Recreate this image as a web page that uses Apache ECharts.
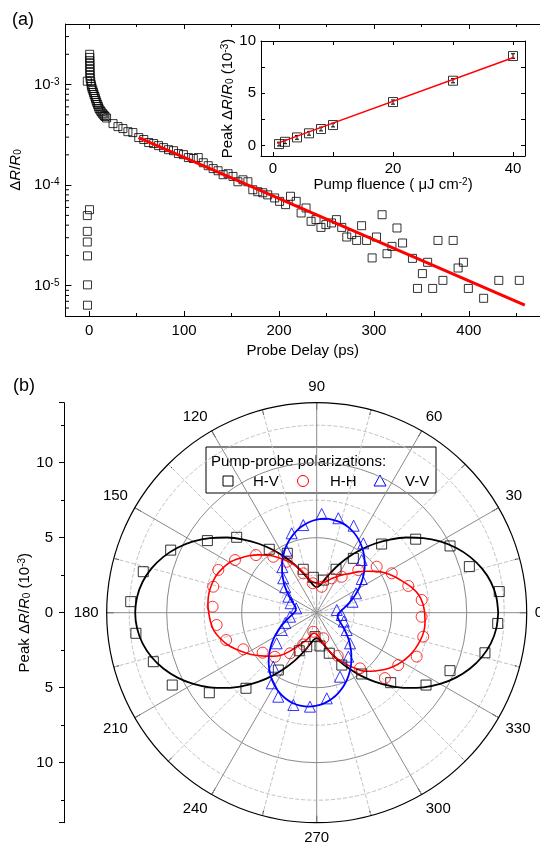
<!DOCTYPE html>
<html>
<head>
<meta charset="utf-8">
<script src="https://cdn.jsdelivr.net/npm/echarts@6/dist/echarts.min.js"></script>
<style>
  html, body { margin: 0; padding: 0; background: #fff; }
  #chart { width: 540px; height: 847px; }
</style>
</head>
<body>
<div id="chart"></div>
<script>
const FONT = '"Liberation Sans", Arial, Helvetica, sans-serif';

// ---- (a) transient reflectivity vs probe delay ----
const delayPs = [
  -2, 0.3, -2, -2, -2, -1.8, -1.8, -1.8,
  0.5, 0.6, 0.6, 0.7, 0.7, 0.8, 0.8, 0.9, 1.0,
  1.6, 2.1, 2.6, 3.1, 3.9, 4.5, 5.2, 6.0, 6.6, 7.3, 8.0, 8.9, 9.7, 10.4, 11.5, 12.5, 13.6, 14.6, 15.7, 16.7, 18.3,
  25.1, 30.3, 35.5, 40.8, 46.0, 52.2, 57.5, 62.7, 67.9, 73.1, 78.4, 83.6, 88.8, 94.0, 99.3, 104.5, 109.7, 114.9,
  120.2, 125.4, 130.6, 135.8, 141.1, 146.3, 151.5, 156.7, 162.0, 167.2, 172.4, 177.6, 182.9, 188.1,
  195.4, 200.6, 206.9, 212.1, 218.1, 223.3, 228.5, 233.8, 239.0, 244.2, 249.4, 255.3, 260.5, 266.1, 271.4,
  276.6, 281.8, 287.0, 292.3, 298.1, 302.7, 308.6, 313.8, 319.0, 324.3, 330.2, 340.6, 345.9, 351.1, 356.6,
  361.9, 367.5, 372.7, 383.5, 388.7, 394.3, 399.5, 415.6, 431.6, 453.2
];
const deltaR = [
  1.08e-3, 5.7e-5, 4.98e-5, 3.47e-5, 2.72e-5, 1.98e-5, 1.02e-5, 6.4e-6,
  2.0e-3, 1.86e-3, 1.73e-3, 1.62e-3, 1.51e-3, 1.41e-3, 1.32e-3, 1.23e-3, 1.15e-3,
  1.07e-3, 1.0e-3, 9.55e-4, 9.12e-4, 8.71e-4, 8.32e-4, 7.95e-4, 7.6e-4, 7.26e-4, 6.93e-4, 6.62e-4, 6.33e-4, 6.04e-4, 5.77e-4, 5.57e-4, 5.38e-4, 5.2e-4, 5.08e-4, 4.92e-4, 4.81e-4, 4.65e-4,
  4.09e-4, 3.82e-4, 3.65e-4, 3.4e-4, 3.33e-4, 2.97e-4, 2.84e-4, 2.65e-4, 2.59e-4, 2.47e-4, 2.36e-4, 2.25e-4, 2.2e-4, 2.06e-4, 2.01e-4, 1.88e-4, 1.84e-4, 1.88e-4,
  1.67e-4, 1.56e-4, 1.46e-4, 1.39e-4, 1.27e-4, 1.3e-4, 1.22e-4, 1.08e-4, 1.13e-4, 1.08e-4, 9.0e-5, 8.6e-5, 8.4e-5, 8.0e-5,
  7.46e-5, 6.9e-5, 6.4e-5, 7.75e-5, 6.9e-5, 5.29e-5, 5.93e-5, 4.37e-5, 4.54e-5, 3.8e-5, 4.05e-5, 4.21e-5, 4.54e-5, 3.8e-5, 3.05e-5,
  3.22e-5, 2.82e-5, 3.95e-5, 2.82e-5, 1.89e-5, 3.05e-5, 5.08e-5, 2.08e-5, 2.46e-5, 3.75e-5, 2.66e-5, 1.87e-5, 9.4e-6, 1.32e-5, 1.71e-5,
  9.4e-6, 2.82e-5, 1.13e-5, 2.82e-5, 1.5e-5, 1.71e-5, 9.4e-6, 7.5e-6, 1.13e-5, 1.13e-5
];
// single-exponential fit, end points
const fitDelay = [52, 459];
const fitDeltaR = [2.97e-4, 6.4e-6];
// minor ticks of the log axis
const logMinorTicks = [6e-6, 7e-6, 8e-6, 9e-6,
  2e-5, 3e-5, 4e-5, 5e-5, 6e-5, 7e-5, 8e-5, 9e-5,
  2e-4, 3e-4, 4e-4, 5e-4, 6e-4, 7e-4, 8e-4, 9e-4,
  2e-3, 3e-3];

// ---- inset: peak signal vs pump fluence ----
const fluence = [1, 2, 4, 6, 8, 10, 20, 30, 40];
const peakSignal = [0.14, 0.36, 0.78, 1.17, 1.58, 1.96, 4.16, 6.2, 8.56];
const peakError = [0.18, 0.18, 0.18, 0.18, 0.18, 0.18, 0.2, 0.2, 0.22];
const fitFluence = [0.7, 40.2];
const fitPeak = [0.21, 8.44];

// ---- (b) polarization dependence (angle in degrees, peak in 1e-3) ----
const hvAngle = [6.6, 16.8, 26.6, 36.6, 46.6, 56, 66, 78.6, 95.5, 107.2, 116.3, 126.8, 136.7, 146.6, 156.8, 166.7, 176.6,
  186.5, 196.7, 206.6, 216.7, 226.9, 236.2, 245.4, 253.6, 266, 275.7, 287.2, 295.6, 306.3, 316.6, 326.5, 336.5, 346.6, 356.6];
const hvPeak = [12.25, 10.63, 9.94, 8.22, 6.3, 4.37, 3.17, 2.22, 2.37, 3.03, 4.42, 5.28, 7.33, 8.73, 10.59, 11.88, 12.42,
  12.13, 11.37, 10.77, 8.93, 6.9, 4.6, 2.79, 2.36, 1.6, 2.23, 2.83, 3.87, 5.07, 6.79, 8.74, 9.69, 11.53, 12.09];

const hhAngle = [6.9, 16.3, 27.7, 37.5, 45.7, 55.2, 66.4, 79.1, 97.7, 108.8, 120.5, 127.8, 136.5, 147.2, 156.5, 165.9, 176.7,
  187, 196.8, 206.5, 216.5, 226.5, 236.7, 247, 259.9, 284.5, 296, 307.9, 316.2, 327.3, 336.3, 347.3, 357.8];
const hhPeak = [7.05, 6.36, 5.65, 5.04, 3.97, 2.92, 2.5, 1.76, 1.98, 2.77, 3.94, 4.72, 5.58, 6.48, 7.15, 7.11, 6.95,
  6.72, 6.31, 5.47, 4.48, 4.05, 3.24, 2.3, 1.29, 1.76, 3.2, 4.7, 6.3, 6.46, 7.28, 7.28, 7.0];

const vvAngle = [7.7, 17, 26.3, 36.8, 49.5, 56.1, 67, 77.1, 87.1, 98.7, 107.5, 116, 127, 134.2, 141, 150.6, 160, 168,
  188.5, 198, 206.3, 217.4, 231.2, 237.5, 245.4, 255.8, 265.9, 276.7, 290, 305.7, 317.4, 330, 342, 354.7];
const vvPeak = [1.35, 2.5, 2.92, 3.75, 4.62, 5.57, 6.3, 6.46, 6.59, 5.91, 5.55, 4.6, 3.8, 3.2, 2.7, 2.17, 1.85, 1.4,
  1.8, 2.2, 2.6, 3.36, 4.62, 5.58, 6.16, 6.35, 6.28, 5.75, 4.54, 3.61, 3.02, 2.31, 1.9, 1.67];

// fitted curves sampled every 5 degrees, 0..360
const curveAngle = Array.from({ length: 73 }, (_, i) => i * 5);
const hvCurve = [
  12.1, 12.02, 11.79, 11.4, 10.88, 10.24, 9.5, 8.68, 7.8, 6.9, 6.0, 5.12, 4.3, 3.56, 2.92, 2.4, 2.01, 1.78,
  1.7, 1.78, 2.01, 2.4, 2.92, 3.56, 4.3, 5.12, 6.0, 6.9, 7.8, 8.68, 9.5, 10.24, 10.88, 11.4, 11.79, 12.02,
  12.1, 12.02, 11.79, 11.4, 10.88, 10.24, 9.5, 8.68, 7.8, 6.9, 6.0, 5.12, 4.3, 3.56, 2.92, 2.4, 2.01, 1.78,
  1.7, 1.78, 2.01, 2.4, 2.92, 3.56, 4.3, 5.12, 6.0, 6.9, 7.8, 8.68, 9.5, 10.24, 10.88, 11.4, 11.79, 12.02,
  12.1
];
const hhCurve = [
  7.2, 7.1, 6.9, 6.55, 6.1, 5.7, 5.3, 4.8, 4.3, 3.85, 3.4, 3.1, 2.8, 2.55, 2.3, 2.12, 2.0, 1.95,
  1.95, 2.02, 2.15, 2.5, 3.0, 3.5, 4.0, 4.5, 5.0, 5.45, 5.9, 6.3, 6.7, 6.95, 7.15, 7.25, 7.3, 7.28,
  7.2, 7.1, 6.95, 6.65, 6.3, 5.85, 5.4, 4.95, 4.5, 4.1, 3.7, 3.15, 2.6, 2.2, 1.9, 1.6, 1.4, 1.38,
  1.45, 1.62, 1.9, 2.35, 2.9, 3.45, 4.0, 4.55, 5.1, 5.5, 5.9, 6.25, 6.55, 6.8, 7.0, 7.15, 7.25, 7.25,
  7.2
];
const vvCurve = [
  1.5, 1.65, 1.87, 2.15, 2.48, 2.85, 3.26, 3.68, 4.11, 4.53, 4.92, 5.29, 5.61, 5.88, 6.09, 6.23, 6.29, 6.29,
  6.2, 6.05, 5.83, 5.55, 5.22, 4.85, 4.44, 4.02, 3.59, 3.17, 2.78, 2.41, 2.09, 1.82, 1.61, 1.47, 1.41, 1.41,
  1.5, 1.65, 1.87, 2.15, 2.48, 2.85, 3.26, 3.68, 4.11, 4.53, 4.92, 5.29, 5.61, 5.88, 6.09, 6.23, 6.29, 6.29,
  6.2, 6.05, 5.83, 5.55, 5.22, 4.85, 4.44, 4.02, 3.59, 3.17, 2.78, 2.41, 2.09, 1.82, 1.61, 1.47, 1.41, 1.41,
  1.5
];

const legendTitle = 'Pump-probe polarizations:';
const seriesNames = ['H-V', 'H-H', 'V-V'];

// ---------------------------------------------------------------
const black = '#000';
const labelStyle = { color: black, fontSize: 15, fontFamily: FONT };
const rich = {
  i: { fontStyle: 'italic', fontSize: 15, fontFamily: FONT, color: black },
  sub: { fontSize: 10, fontFamily: FONT, color: black, verticalAlign: 'bottom' },
  sup: { fontSize: 10, fontFamily: FONT, color: black, verticalAlign: 'top' }
};
const nameStyle = { color: black, fontSize: 15, fontFamily: FONT, rich: rich };
const line = { onZero: false, lineStyle: { color: black, width: 1 } };
const zip = (xs, ys) => xs.map((x, i) => [x, ys[i]]);
const polarData = (angles, radii) => angles.map((a, i) => [radii[i], a]);

function frameAxis(extra) {
  return Object.assign({
    type: 'value',
    axisLine: line,
    axisTick: { inside: true, length: 5, lineStyle: { color: black } },
    minorTick: { show: true, splitNumber: 2, length: 3, lineStyle: { color: black } },
    splitLine: { show: false },
    axisLabel: { show: false }
  }, extra);
}

const option = {
  animation: false,
  backgroundColor: '#fff',
  grid: [
    { left: 64, top: 24, width: 478.5, height: 292 },
    { left: 261, top: 41, width: 264, height: 115, show: true, backgroundColor: '#fff', borderWidth: 0, z: 5 },
    { left: 64, top: 402.7, width: 20, height: 420 }
  ],
  xAxis: [
    frameAxis({
      gridIndex: 0, position: 'bottom', min: -25, max: 475, splitNumber: 5,
      axisLabel: Object.assign({ show: true, margin: 7, showMinLabel: false, showMaxLabel: false }, labelStyle),
      name: 'Probe Delay (ps)', nameLocation: 'middle', nameGap: 27, nameTextStyle: nameStyle
    }),
    frameAxis({ gridIndex: 0, position: 'top', min: -25, max: 475, splitNumber: 5 }),
    frameAxis({
      gridIndex: 1, position: 'bottom', min: -2, max: 42, splitNumber: 2, z: 6,
      axisTick: { inside: true, length: 4, lineStyle: { color: black } },
      minorTick: { show: true, splitNumber: 2, length: 4, lineStyle: { color: black } },
      axisLabel: Object.assign({ show: true, margin: 5, showMinLabel: false, showMaxLabel: false }, labelStyle),
      name: 'Pump fluence ( \u03bcJ cm{sup|-2})', nameLocation: 'middle', nameGap: 21, nameTextStyle: nameStyle
    }),
    frameAxis({
      gridIndex: 1, position: 'top', min: -2, max: 42, splitNumber: 2, z: 6,
      axisTick: { inside: true, length: 4, lineStyle: { color: black } },
      minorTick: { show: true, splitNumber: 2, length: 4, lineStyle: { color: black } }
    }),
    { gridIndex: 2, type: 'value', min: 0, max: 1, show: false }
  ],
  yAxis: [
    {
      gridIndex: 0, type: 'log', logBase: 10, min: 5e-6, max: 4e-3,
      axisLine: line,
      axisTick: { inside: true, length: 6, lineStyle: { color: black } },
      splitLine: { show: false },
      axisLabel: Object.assign({
        margin: 6, showMinLabel: false, showMaxLabel: false, rich: rich,
        formatter: v => '10{sup|' + Math.round(Math.log10(v)) + '}'
      }, labelStyle),
      name: '\u0394{i|R}/{i|R}{sub|0}', nameLocation: 'middle', nameRotate: 90, nameGap: 26, nameTextStyle: nameStyle
    },
    frameAxis({
      gridIndex: 1, position: 'left', min: -1, max: 10, splitNumber: 2, z: 6,
      axisTick: { inside: true, length: 4, lineStyle: { color: black } },
      minorTick: { show: true, splitNumber: 2, length: 4, lineStyle: { color: black } },
      axisLabel: Object.assign({ show: true, margin: 5, showMinLabel: false }, labelStyle),
      name: 'Peak \u0394{i|R}/{i|R}{sub|0} (10{sup|-3})', nameLocation: 'middle', nameRotate: 90, nameGap: 23, nameTextStyle: nameStyle
    }),
    frameAxis({
      gridIndex: 1, position: 'right', min: -1, max: 10, splitNumber: 2, z: 6,
      axisTick: { inside: true, length: 4, lineStyle: { color: black } },
      minorTick: { show: true, splitNumber: 2, length: 4, lineStyle: { color: black } }
    }),
    {
      gridIndex: 2, type: 'value', position: 'left', min: -14, max: 14, splitNumber: 6,
      axisLine: line,
      axisTick: { inside: false, length: 5, lineStyle: { color: black } },
      minorTick: { show: true, splitNumber: 2, length: 3, lineStyle: { color: black } },
      splitLine: { show: false },
      axisLabel: Object.assign({ margin: 11, showMinLabel: false, showMaxLabel: false, formatter: v => String(Math.abs(v)) }, labelStyle),
      name: 'Peak \u0394{i|R}/{i|R}{sub|0} (10{sup|-3})', nameLocation: 'middle', nameRotate: 90, nameGap: 32, nameTextStyle: nameStyle
    }
  ],
  polar: [
    { center: [316.7, 612.7], radius: 210 },
    { center: [316.7, 612.7], radius: 210 }
  ],
  angleAxis: [
    {
      polarIndex: 0, type: 'value', min: 0, max: 360, interval: 30, startAngle: 0, clockwise: false,
      axisLine: { lineStyle: { color: black, width: 1.2 } },
      axisTick: { inside: true, length: 7, lineStyle: { color: black } },
      minorTick: { show: true, splitNumber: 2, length: 5, lineStyle: { color: black } },
      axisLabel: Object.assign({ margin: 8, formatter: v => (v === 360 ? '' : String(v)) }, labelStyle),
      splitLine: { show: true, lineStyle: { color: '#8a8a8a', width: 1 } },
      minorSplitLine: { show: true, lineStyle: { color: '#c2c2c2', width: 1, type: 'dashed' } }
    },
    { polarIndex: 1, type: 'value', min: 0, max: 360, startAngle: 0, clockwise: false, show: false }
  ],
  radiusAxis: [
    {
      polarIndex: 0, type: 'value', min: 0, max: 14, interval: 5,
      axisLine: { show: false }, axisTick: { show: false }, axisLabel: { show: false },
      splitLine: { show: true, lineStyle: { color: ['#8a8a8a', '#8a8a8a', '#8a8a8a', 'rgba(0,0,0,0)'], width: 1 } }
    },
    {
      polarIndex: 1, type: 'value', min: 0, max: 14, interval: 2.5,
      axisLine: { show: false }, axisTick: { show: false }, axisLabel: { show: false },
      splitLine: { show: true, lineStyle: { color: ['rgba(0,0,0,0)', '#c2c2c2'], width: 1, type: 'dashed' } }
    }
  ],
  series: [
    // (a)
    {
      type: 'scatter', xAxisIndex: 0, yAxisIndex: 0, data: zip(delayPs, deltaR),
      symbol: 'rect', symbolSize: 8,
      itemStyle: { color: 'rgba(0,0,0,0)', borderColor: black, borderWidth: 1 }
    },
    {
      type: 'line', xAxisIndex: 0, yAxisIndex: 0, data: zip(fitDelay, fitDeltaR),
      showSymbol: false, lineStyle: { color: '#ff0000', width: 3 }, z: 4
    },
    {
      type: 'custom', xAxisIndex: 0, yAxisIndex: 0, silent: true, clip: false,
      data: logMinorTicks.map(v => [-25, v]),
      renderItem: (params, api) => {
        const p = api.coord([api.value(0), api.value(1)]);
        return { type: 'line', shape: { x1: p[0], y1: p[1], x2: p[0] + 3.5, y2: p[1] }, style: { stroke: black, lineWidth: 1 } };
      }
    },
    // inset
    {
      type: 'custom', xAxisIndex: 2, yAxisIndex: 1, silent: true, z: 7,
      data: fluence.map((f, i) => [f, peakSignal[i], peakError[i]]),
      renderItem: (params, api) => {
        const x = api.value(0), y = api.value(1), e = api.value(2);
        const lo = api.coord([x, y - e]), hi = api.coord([x, y + e]);
        return {
          type: 'group', children: [
            { type: 'line', shape: { x1: lo[0], y1: lo[1], x2: hi[0], y2: hi[1] }, style: { stroke: black, lineWidth: 1 } },
            { type: 'line', shape: { x1: lo[0] - 2, y1: lo[1], x2: lo[0] + 2, y2: lo[1] }, style: { stroke: black, lineWidth: 1 } },
            { type: 'line', shape: { x1: hi[0] - 2, y1: hi[1], x2: hi[0] + 2, y2: hi[1] }, style: { stroke: black, lineWidth: 1 } }
          ]
        };
      }
    },
    {
      type: 'scatter', xAxisIndex: 2, yAxisIndex: 1, data: zip(fluence, peakSignal), z: 7,
      symbol: 'rect', symbolSize: 9,
      itemStyle: { color: 'rgba(0,0,0,0)', borderColor: black, borderWidth: 1 }
    },
    {
      type: 'line', xAxisIndex: 2, yAxisIndex: 1, data: zip(fitFluence, fitPeak), z: 8,
      showSymbol: false, lineStyle: { color: '#ff0000', width: 1.5 }
    },
    // (b) fitted curves
    {
      type: 'line', coordinateSystem: 'polar', polarIndex: 0, data: polarData(curveAngle, hvCurve),
      smooth: 0.3, showSymbol: false, lineStyle: { color: black, width: 1.8 }, z: 3
    },
    {
      type: 'line', coordinateSystem: 'polar', polarIndex: 0, data: polarData(curveAngle, hhCurve),
      smooth: 0.3, showSymbol: false, lineStyle: { color: '#ff0000', width: 1.6 }, z: 3
    },
    {
      type: 'line', coordinateSystem: 'polar', polarIndex: 0, data: polarData(curveAngle, vvCurve),
      smooth: 0.3, showSymbol: false, lineStyle: { color: '#0000ff', width: 1.8 }, z: 3
    },
    // (b) measured points
    {
      name: seriesNames[0], type: 'scatter', coordinateSystem: 'polar', polarIndex: 0, data: polarData(hvAngle, hvPeak),
      symbol: 'rect', symbolSize: 10, z: 4,
      itemStyle: { color: 'rgba(0,0,0,0)', borderColor: black, borderWidth: 1 }
    },
    {
      name: seriesNames[1], type: 'scatter', coordinateSystem: 'polar', polarIndex: 0, data: polarData(hhAngle, hhPeak),
      symbol: 'circle', symbolSize: 11, z: 4,
      itemStyle: { color: 'rgba(0,0,0,0)', borderColor: '#ff0000', borderWidth: 1 }
    },
    {
      name: seriesNames[2], type: 'scatter', coordinateSystem: 'polar', polarIndex: 0, data: polarData(vvAngle, vvPeak),
      symbol: 'triangle', symbolSize: 11, z: 4,
      itemStyle: { color: 'rgba(0,0,0,0)', borderColor: '#0000ff', borderWidth: 1 }
    }
  ],
  graphic: [
    { type: 'text', x: 12, y: 20, style: { text: '(a)', font: '18px ' + FONT, fill: black, verticalAlign: 'middle' } },
    { type: 'text', x: 13, y: 386, style: { text: '(b)', font: '18px ' + FONT, fill: black, verticalAlign: 'middle' } },
    {
      type: 'group', z: 100,
      children: [
        { type: 'rect', shape: { x: 206, y: 447, width: 230, height: 46 }, style: { fill: '#fff', stroke: black, lineWidth: 1 } },
        { type: 'text', x: 211, y: 462, style: { text: legendTitle, font: '15px ' + FONT, fill: black, verticalAlign: 'middle' } },
        { type: 'rect', shape: { x: 223, y: 476, width: 10, height: 10 }, style: { fill: 'none', stroke: black, lineWidth: 1 } },
        { type: 'text', x: 253, y: 482, style: { text: seriesNames[0], font: '15px ' + FONT, fill: black, verticalAlign: 'middle' } },
        { type: 'circle', shape: { cx: 303, cy: 481, r: 5.5 }, style: { fill: 'none', stroke: '#ff0000', lineWidth: 1 } },
        { type: 'text', x: 330, y: 482, style: { text: seriesNames[1], font: '15px ' + FONT, fill: black, verticalAlign: 'middle' } },
        { type: 'polygon', shape: { points: [[380, 475], [386, 486], [374, 486]] }, style: { fill: 'none', stroke: '#0000ff', lineWidth: 1 } },
        { type: 'text', x: 405, y: 482, style: { text: seriesNames[2], font: '15px ' + FONT, fill: black, verticalAlign: 'middle' } }
      ]
    }
  ]
};

const chart = echarts.init(document.getElementById('chart'), null, { renderer: 'canvas' });
chart.setOption(option);
</script>
</body>
</html>
